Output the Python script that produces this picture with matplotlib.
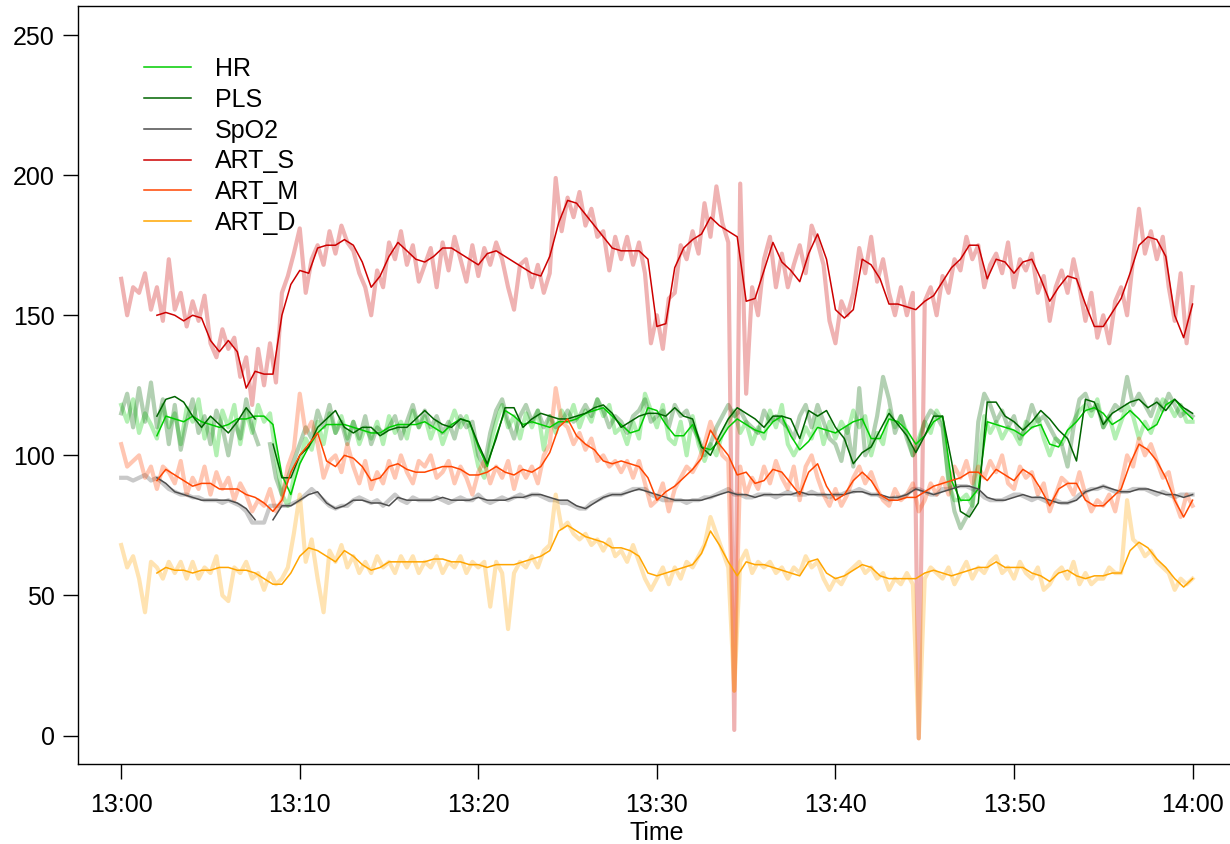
import numpy as np
import matplotlib
matplotlib.use("Agg")
import matplotlib.pyplot as plt
from matplotlib.lines import Line2D
from matplotlib.ticker import FuncFormatter

plt.rcParams['font.family'] = ['Liberation Sans', 'DejaVu Sans']

# minutes after 13:00; raw values every 20 s, smoothed every 30 s from 13:02
raw_step = 1 / 3
smooth_start = 2.0
smooth_step = 0.5
nan = np.nan

names = ["HR", "PLS", "SpO2", "ART_S", "ART_M", "ART_D"]
colors = ["#00CD00", "#006400", "#4D4D4D", "#CD0000", "#FF4500", "#FFA500"]

# ---- raw monitor values ----
hr_raw = [
    118, 112, 120, 108, 115, 111,
    106, 118, 110, 115, 104, 117,
    112, 120, 106, 113, 100, 116,
    110, 118, 104, 116, 108, 118,
    112, 115, 100, 86, 82, 92,
    98, 106, 102, 112, 104, 115,
    108, 114, 106, 112, 104, 110,
    106, 112, 104, 114, 108, 112,
    106, 116, 110, 114, 106, 112,
    104, 110, 116, 110, 114, 106,
    96, 92, 104, 112, 118, 110,
    114, 106, 115, 110, 116, 102,
    114, 108, 116, 112, 118, 110,
    116, 112, 120, 114, 118, 108,
    110, 104, 112, 106, 122, 116,
    110, 118, 106, 104, 112, 100,
    114, 104, 98, 104, 100, 108,
    112, 116, 108, 112, 104, 110,
    106, 116, 110, 118, 104, 100,
    104, 110, 106, 114, 104, 112,
    106, 112, 108, 116, 110, 114,
    100, 108, 104, 116, 110, 114,
    108, 100, 106, 112, 108, 116,
    112, 90, 84, 84, 86, 82,
    96, 114, 108, 112, 106, 110,
    108, 104, 112, 110, 114, 106,
    100, 106, 104, 108, 112, 116,
    118, 114, 120, 110, 114, 106,
    112, 118, 114, 106, 112, 108,
    114, 120, 118, 114, 118, 112,
    112,
]
pls_raw = [
    115, 122, 110, 124, 112, 126,
    110, 120, 104, 118, 102, 112,
    120, 108, 114, 104, 116, 110,
    100, 112, 106, 120, 110, 104,
    nan, 104, 92, 86, 92, 98,
    104, 110, 106, 116, 110, 118,
    108, 112, 104, 112, 106, 114,
    104, 110, 108, 110, 114, 106,
    112, 118, 110, 116, 110, 114,
    108, 112, 106, 114, 110, 112,
    100, 96, 108, 116, 120, 112,
    106, 114, 118, 112, 116, 110,
    114, 110, 112, 116, 112, 114,
    118, 114, 120, 116, 110, 114,
    112, 108, 114, 116, 120, 112,
    114, 116, 110, 118, 114, 116,
    110, 106, 100, 104, 110, 114,
    118, 114, 116, 112, 110, 108,
    116, 112, 114, 112, 110, 106,
    114, 118, 110, 118, 112, 106,
    104, 98, 110, 96, 124, 100,
    104, 114, 128, 120, 108, 114,
    106, 100, 104, 112, 116, 114,
    110, 92, 80, 74, 78, 82,
    112, 122, 118, 112, 116, 110,
    114, 106, 110, 118, 112, 114,
    110, 106, 104, 96, 110, 120,
    122, 116, 118, 110, 114, 118,
    116, 128, 118, 122, 118, 114,
    120, 116, 122, 118, 114, 116,
    114,
]
spo2_raw = [
    92, 92, 91, 92, 93, 91,
    92, 90, 88, 87, 86, 86,
    85, 85, 84, 84, 84, 83,
    84, 83, 82, 80, 76, 76,
    76, 82, 82, 82, 82, 83,
    84, 86, 88, 86, 84, 82,
    81, 82, 82, 84, 85, 84,
    83, 84, 82, 84, 86, 84,
    83, 85, 84, 84, 84, 85,
    84, 83, 84, 85, 84, 84,
    86, 84, 83, 84, 85, 84,
    85, 86, 85, 86, 86, 85,
    84, 84, 83, 83, 82, 81,
    81, 83, 84, 85, 86, 86,
    86, 87, 88, 88, 88, 86,
    85, 84, 84, 84, 84, 83,
    84, 84, 85, 85, 86, 87,
    88, 86, 86, 85, 85, 86,
    86, 86, 85, 86, 87, 86,
    86, 86, 87, 86, 86, 85,
    86, 86, 87, 87, 88, 87,
    86, 86, 85, 84, 85, 85,
    86, 88, 88, 87, 86, 86,
    88, 88, 89, 89, 89, 88,
    87, 85, 84, 84, 84, 85,
    86, 86, 85, 84, 85, 84,
    83, 84, 83, 83, 84, 86,
    87, 88, 88, 89, 88, 87,
    87, 87, 88, 88, 88, 87,
    86, 87, 86, 85, 86, 86,
    86,
]
art_s_raw = [
    163, 150, 160, 158, 165, 152,
    160, 148, 170, 152, 158, 146,
    155, 148, 157, 140, 135, 145,
    138, 142, 128, 135, 118, 138,
    125, 140, 126, 158, 164, 172,
    181, 158, 170, 175, 168, 180,
    172, 182, 176, 173, 165, 160,
    150, 166, 160, 176, 170, 180,
    168, 175, 162, 168, 174, 160,
    176, 166, 178, 170, 162, 175,
    164, 174, 168, 176, 170, 160,
    152, 168, 170, 160, 168, 158,
    165, 199, 180, 192, 185, 194,
    182, 188, 178, 180, 166, 178,
    170, 178, 168, 176, 165, 140,
    150, 138, 156, 158, 175, 170,
    180, 172, 190, 178, 196, 183,
    176, 2, 197, 122, 160, 150,
    170, 178, 160, 172, 160, 168,
    175, 165, 182, 176, 168, 148,
    140, 155, 150, 158, 174, 165,
    178, 162, 170, 158, 150, 160,
    150, 158, -1, 155, 160, 150,
    164, 158, 170, 166, 178, 170,
    175, 160, 168, 172, 165, 176,
    160, 170, 166, 172, 158, 164,
    148, 160, 166, 158, 170, 160,
    148, 158, 142, 150, 140, 155,
    160, 150, 170, 188, 172, 180,
    170, 178, 160, 148, 165, 140,
    160,
]
art_m_raw = [
    104, 96, 98, 100, 92, 96,
    88, 96, 94, 90, 98, 86,
    92, 88, 96, 86, 94, 88,
    92, 84, 90, 86, 80, 84,
    82, 88, 80, 84, 96, 102,
    122, 108, 112, 104, 92, 98,
    100, 94, 104, 96, 90, 98,
    88, 94, 90, 98, 92, 100,
    94, 90, 98, 96, 100, 92,
    94, 98, 90, 96, 92, 86,
    94, 98, 90, 96, 92, 98,
    88, 96, 92, 96, 90, 100,
    104, 124, 112, 110, 104, 108,
    102, 106, 98, 100, 96, 98,
    94, 98, 92, 98, 90, 82,
    84, 90, 80, 88, 92, 96,
    94, 98, 104, 112, 106, 100,
    98, 16, 96, 86, 92, 88,
    96, 90, 98, 92, 88, 96,
    84, 96, 100, 92, 86, 82,
    88, 82, 86, 92, 96, 90,
    94, 88, 84, 82, 88, 84,
    86, 90, 80, 84, 90, 86,
    92, 86, 96, 92, 98, 90,
    96, 92, 98, 94, 100, 90,
    88, 96, 92, 94, 86, 90,
    80, 86, 92, 90, 86, 94,
    86, 80, 84, 82, 86, 80,
    90, 100, 96, 106, 100, 104,
    98, 92, 94, 84, 78, 86,
    82,
]
art_d_raw = [
    68, 60, 64, 56, 44, 62,
    60, 56, 62, 58, 62, 56,
    62, 56, 60, 58, 64, 50,
    48, 60, 58, 62, 56, 58,
    52, 58, 54, 56, 60, 72,
    86, 62, 70, 56, 44, 66,
    62, 68, 60, 64, 58, 62,
    58, 64, 60, 62, 58, 64,
    60, 64, 58, 62, 60, 64,
    58, 62, 60, 64, 58, 62,
    60, 62, 46, 62, 58, 38,
    58, 62, 60, 64, 60, 66,
    68, 86, 74, 76, 72, 70,
    72, 68, 70, 66, 70, 64,
    66, 62, 68, 62, 56, 52,
    56, 60, 54, 60, 56, 62,
    60, 64, 68, 78, 72, 66,
    60, 16, 62, 66, 58, 62,
    60, 62, 58, 60, 56, 60,
    58, 64, 60, 62, 56, 52,
    56, 54, 58, 60, 62, 58,
    60, 56, 58, 52, 56, 54,
    58, 54, -1, 56, 60, 58,
    56, 60, 54, 58, 62, 56,
    60, 58, 62, 64, 58, 60,
    56, 62, 58, 56, 60, 52,
    54, 58, 60, 56, 62, 54,
    58, 54, 56, 56, 60, 58,
    58, 84, 70, 68, 64, 66,
    62, 60, 58, 52, 56, 54,
    56,
]

# ---- smoothed values ----
hr_smooth = [
    107, 114, 113, 112, 114, 112, 111, 110, 111, 113,
    113, 114, 114, 111, 93, 86, 97, 103, 108, 111,
    111, 111, 110, 109, 108, 108, 110, 111, 111, 111,
    112, 110, 108, 111, 113, 112, 103, 96, 107, 116,
    114, 111, 112, 111, 110, 112, 112, 113, 115, 116,
    117, 114, 111, 108, 109, 117, 116, 111, 107, 107,
    111, 103, 102, 105, 110, 113, 111, 109, 108, 112,
    114, 107, 102, 105, 110, 109, 108, 110, 112, 113,
    106, 106, 113, 112, 109, 104, 107, 112, 114, 91,
    84, 84, 88, 112, 111, 110, 109, 107, 110, 111,
    104, 103, 109, 112, 116, 117, 115, 111, 113, 116,
    113, 109, 111, 118, 120, 116, 113,
]
pls_smooth = [
    114, 120, 121, 119, 114, 110, 114, 111, 108, 112,
    117, 113, nan, 104, 92, 92, 100, 103, 110, 113,
    116, 110, 108, 110, 110, 107, 109, 110, 110, 113,
    116, 113, 111, 110, 113, 112, 104, 97, 106, 117,
    117, 110, 113, 115, 114, 113, 113, 114, 115, 117,
    118, 115, 110, 112, 114, 115, 115, 114, 117, 114,
    113, 103, 100, 107, 113, 117, 115, 113, 110, 114,
    114, 113, 106, 116, 114, 116, 110, 106, 97, 101,
    103, 109, 115, 111, 107, 101, 107, 114, 114, 98,
    80, 78, 83, 119, 119, 114, 112, 109, 112, 116,
    113, 109, 106, 98, 120, 119, 111, 115, 117, 119,
    120, 117, 119, 116, 120, 117, 115,
]
spo2_smooth = [
    92, 90, 87, 86, 85, 84, 84, 84, 84, 83,
    81, 77, nan, 77, 82, 82, 84, 86, 87, 83,
    81, 82, 84, 84, 83, 83, 82, 85, 84, 84,
    84, 84, 85, 84, 84, 84, 85, 84, 84, 84,
    85, 85, 86, 86, 85, 84, 84, 82, 81, 83,
    85, 86, 86, 87, 88, 87, 86, 85, 84, 84,
    84, 84, 85, 86, 87, 86, 86, 85, 86, 86,
    86, 86, 87, 86, 86, 86, 86, 86, 87, 87,
    86, 86, 85, 85, 86, 88, 87, 86, 87, 88,
    89, 89, 88, 85, 84, 84, 85, 86, 85, 85,
    84, 83, 83, 84, 87, 88, 89, 88, 87, 87,
    88, 88, 87, 86, 86, 85, 86,
]
art_s_smooth = [
    150, 151, 150, 148, 150, 149, 141, 137, 141, 137,
    124, 130, 129, 129, 150, 161, 166, 165, 174, 175,
    175, 177, 175, 169, 160, 164, 171, 176, 173, 170,
    169, 171, 174, 174, 172, 170, 168, 172, 173, 171,
    169, 167, 165, 164, 171, 183, 191, 190, 186, 182,
    178, 174, 173, 173, 173, 170, 146, 147, 167, 174,
    177, 179, 185, 182, 180, 178, 155, 156, 166, 176,
    169, 166, 162, 172, 179, 170, 152, 149, 152, 170,
    168, 163, 154, 154, 153, 152, 155, 157, 162, 167,
    170, 175, 175, 163, 170, 169, 165, 169, 170, 163,
    155, 160, 164, 163, 154, 146, 146, 151, 156, 165,
    175, 178, 177, 171, 150, 142, 154,
]
art_m_smooth = [
    91, 95, 93, 91, 89, 90, 90, 88, 88, 88,
    86, 85, 83, 80, 84, 94, 100, 104, 108, 98,
    96, 100, 99, 96, 91, 92, 96, 97, 95, 94,
    94, 95, 96, 96, 95, 93, 93, 94, 96, 94,
    93, 95, 94, 96, 101, 110, 113, 107, 104, 102,
    98, 97, 98, 97, 96, 92, 84, 87, 89, 92,
    95, 99, 109, 104, 100, 93, 94, 90, 91, 95,
    94, 90, 86, 94, 97, 89, 84, 86, 91, 94,
    91, 86, 84, 84, 85, 85, 87, 89, 90, 91,
    92, 94, 94, 91, 95, 93, 91, 95, 93, 88,
    82, 88, 90, 90, 84, 82, 82, 85, 88, 97,
    104, 102, 98, 92, 84, 78, 84,
]
art_d_smooth = [
    58, 60, 59, 59, 58, 59, 59, 60, 60, 59,
    59, 58, 56, 54, 54, 58, 64, 67, 66, 64,
    62, 66, 64, 61, 59, 60, 62, 62, 62, 62,
    62, 63, 63, 62, 62, 61, 61, 60, 61, 61,
    61, 62, 63, 64, 66, 73, 75, 73, 71, 70,
    69, 67, 67, 66, 64, 58, 57, 58, 59, 60,
    61, 65, 73, 68, 62, 57, 62, 61, 61, 60,
    59, 58, 57, 62, 63, 58, 56, 57, 59, 61,
    60, 57, 56, 56, 56, 56, 58, 59, 58, 57,
    58, 59, 60, 60, 62, 60, 60, 60, 58, 57,
    55, 58, 59, 57, 56, 57, 57, 58, 58, 66,
    69, 67, 63, 60, 56, 53, 56,
]

raw_series = [hr_raw, pls_raw, spo2_raw, art_s_raw, art_m_raw, art_d_raw]
smooth_series = [hr_smooth, pls_smooth, spo2_smooth, art_s_smooth, art_m_smooth, art_d_smooth]

fig = plt.figure(figsize=(12.3, 8.44), dpi=100)
ax = fig.add_axes([0.0637, 0.0951, 0.9407, 0.8972])

# faint raw traces underneath, smoothed traces on top
for vals, col in zip(raw_series, colors):
    t = np.arange(len(vals)) * raw_step
    ax.plot(t, vals, color=col, alpha=0.3, lw=3.0)
for vals, col in zip(smooth_series, colors):
    t = smooth_start + np.arange(len(vals)) * smooth_step
    ax.plot(t, vals, color=col, lw=1.1)

ax.set_xlim(-2.4, 62.4)
ax.set_ylim(-10.06, 260.2)
ax.set_xticks(range(0, 61, 10))
ax.xaxis.set_major_formatter(
    FuncFormatter(lambda m, p: f"{13 + int(m) // 60}:{int(m) % 60:02d}"))
ax.set_yticks(range(0, 251, 50))
ax.tick_params(labelsize=18, length=11, width=1.0, direction='out')
ax.tick_params(axis='x', pad=10)
ax.tick_params(axis='y', pad=6)
ax.set_xlabel("Time", fontsize=18, labelpad=3)
for s in ax.spines.values():
    s.set_linewidth(1.0)

handles = [Line2D([], [], color=c, lw=1.1) for c in colors]
ax.legend(handles, names, loc='upper left', bbox_to_anchor=(0.0567, 0.9333),
          frameon=False, fontsize=18, handlelength=1.9, handletextpad=0.95,
          labelspacing=0.27, borderpad=0, borderaxespad=0)

fig.savefig("out.png", dpi=100)
